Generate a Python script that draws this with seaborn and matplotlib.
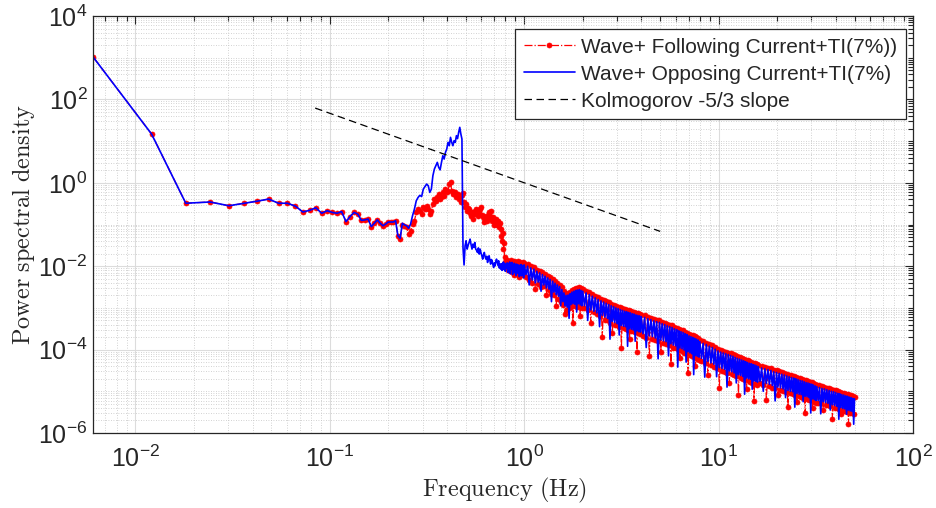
import numpy as np
import pandas as pd
import matplotlib
matplotlib.use("Agg")
import matplotlib.pyplot as plt
import seaborn as sns
from matplotlib.ticker import FixedLocator, LogLocator, LogFormatterSciNotation, NullFormatter

# Spectral resolution of the FFT bins (Hz)
FREQ_STEP = 0.00605

# log10 of the PSD for bins 1..37, where both cases coincide
log_psd_shared = [
    3.02, 1.17, -0.49, -0.46, -0.55, -0.49, -0.44, -0.39, -0.49, -0.49,
    -0.56, -0.70, -0.66, -0.60, -0.73, -0.67, -0.71, -0.73, -0.69, -0.93,
    -0.81, -0.71, -0.75, -0.90, -0.89, -0.87, -1.05, -0.97, -0.89, -0.97,
    -1.03, -0.99, -0.94, -0.94, -0.94, -0.91, -1.27,
]

# log10 of the PSD for bins 38..164 (about 0.23 Hz to 1 Hz)
log_psd_following_low = [
    -1.35, -1.00, -1.03, -1.07, -1.23, -1.15, -0.99, -0.91, -0.71, -0.63,
    -0.67, -0.75, -0.59, -0.63, -0.55, -0.63, -0.75, -0.67, -0.51, -0.39,
    -0.43, -0.35, -0.27, -0.39, -0.33, -0.23, -0.31, -0.15, -0.23, -0.19,
    -0.03, 0.01, -0.19, -0.27, -0.21, -0.23, -0.35, -0.27, -0.39, -0.35,
    -0.47, -0.30, -0.25, -0.45, -0.59, -0.52, -0.67, -0.60, -0.63, -0.72,
    -0.79, -0.70, -0.87, -0.75, -0.68, -0.63, -0.74, -0.79, -0.66, -0.71,
    -0.62, -0.59, -0.76, -0.83, -0.95, -0.80, -0.88, -0.83, -0.92, -0.87,
    -0.78, -0.71, -0.80, -0.67, -0.85, -0.91, -0.82, -0.87, -1.00, -0.95,
    -0.86, -0.91, -1.02, -0.91, -0.98, -1.06, -0.97, -1.11, -1.27, -1.39,
    -1.20, -1.59, -1.45, -1.91, -1.78, -2.00, -1.86, -1.95, -2.10, -1.88,
    -2.02, -1.92, -2.12, -1.86, -1.98, -2.15, -1.90, -2.05, -1.87, -2.20,
    -1.92, -2.08, -1.89, -2.18, -1.95, -2.10, -1.88, -2.25, -1.93, -2.12,
    -1.90, -2.20, -1.95, -2.14, -1.91, -2.22, -1.96,
]
log_psd_opposing_low = [
    -1.33, -0.97, -1.01, -1.03, -1.09, -0.99, -0.79, -0.63, -0.43, -0.35,
    -0.30, -0.33, -0.15, -0.09, -0.03, -0.07, -0.23, -0.15, 0.17, 0.33,
    0.41, 0.49, 0.37, 0.31, 0.49, 0.65, 0.57, 0.73, 0.81, 0.97,
    0.89, 1.09, 0.97, 0.89, 1.01, 0.97, 1.13, 1.06, 1.21, 1.33,
    1.17, 1.05, -1.55, -1.97, -1.51, -1.39, -1.59, -1.50, -1.43, -1.35,
    -1.48, -1.59, -1.47, -1.55, -1.43, -1.59, -1.62, -1.67, -1.56, -1.71,
    -1.59, -1.68, -1.75, -1.83, -1.72, -1.67, -1.78, -1.83, -1.76, -1.91,
    -1.82, -1.75, -1.86, -1.95, -1.84, -1.87, -1.96, -2.03, -1.92, -1.99,
    -1.88, -1.83, -1.91, -1.98, -1.87, -2.04, -1.95, -2.07, -1.94, -2.10,
    -2.03, -1.90, -2.08, -1.93, -2.12, -1.96, -2.05, -1.92, -2.15, -1.95,
    -2.08, -1.90, -2.18, -1.94, -2.06, -1.91, -2.20, -1.97, -2.10, -1.93,
    -2.16, -1.96, -2.22, -1.95, -2.12, -1.98, -2.18, -1.97, -2.25, -1.99,
    -2.15, -1.96, -2.23, -2.00, -2.14, -1.98, -2.28,
]

# Inertial range above 1 Hz, stored as evenly spaced runs: (first Hz, last Hz, points)
hf_runs = [(1.00, 1.98, 50), (2.00, 3.96, 50), (4.00, 7.92, 50),
           (8.00, 15.84, 50), (16.00, 31.68, 50), (32.0, 50.0, 37)]

log_psd_following_hf = [
    # 1.00 - 1.98 Hz
    -1.92, -2.25, -1.95, -2.32, -1.99, -2.40, -2.02, -2.55, -2.08, -2.42,
    -2.11, -2.50, -2.15, -2.48, -2.19, -2.70, -2.24, -2.58, -2.27, -2.66,
    -2.31, -2.70, -2.36, -2.95, -2.40, -2.78, -2.44, -2.85, -2.51, -2.92,
    -2.59, -3.15, -2.66, -3.05, -2.65, -3.00, -2.61, -2.98, -2.57, -3.35,
    -2.55, -2.96, -2.53, -2.98, -2.52, -2.95, -2.51, -3.20, -2.53, -3.00,
    # 2.00 - 3.96 Hz
    -2.55, -3.00, -2.59, -3.05, -2.63, -3.35, -2.67, -3.10, -2.71, -3.15,
    -2.75, -3.20, -2.78, -3.70, -2.81, -3.28, -2.84, -3.30, -2.87, -3.35,
    -2.90, -3.60, -2.92, -3.40, -2.95, -3.42, -2.97, -3.45, -2.99, -3.95,
    -3.01, -3.48, -3.03, -3.50, -3.04, -3.52, -3.06, -3.75, -3.07, -3.55,
    -3.09, -3.56, -3.10, -3.58, -3.12, -4.05, -3.13, -3.60, -3.14, -3.62,
    # 4.00 - 7.92 Hz
    -3.16, -3.68, -3.18, -3.71, -3.21, -4.15, -3.23, -3.75, -3.26, -3.78,
    -3.28, -3.80, -3.30, -4.05, -3.33, -3.85, -3.35, -3.87, -3.38, -3.90,
    -3.40, -4.35, -3.42, -3.95, -3.45, -3.97, -3.47, -3.99, -3.50, -4.20,
    -3.52, -4.04, -3.54, -4.07, -3.57, -4.09, -3.59, -4.55, -3.62, -4.14,
    -3.64, -4.16, -3.66, -4.18, -3.68, -4.40, -3.70, -4.22, -3.72, -4.24,
    # 8.00 - 15.84 Hz
    -3.76, -4.27, -3.80, -4.31, -3.83, -4.60, -3.87, -4.38, -3.90, -4.41,
    -3.94, -4.45, -3.98, -4.91, -4.01, -4.51, -4.03, -4.53, -4.05, -4.55,
    -4.07, -4.80, -4.09, -4.59, -4.11, -4.62, -4.14, -4.64, -4.16, -5.08,
    -4.18, -4.68, -4.20, -4.70, -4.22, -4.72, -4.24, -4.95, -4.26, -4.76,
    -4.28, -4.77, -4.29, -4.79, -4.31, -5.23, -4.32, -4.82, -4.34, -4.84,
    # 16.0 - 31.7 Hz
    -4.36, -4.81, -4.39, -4.84, -4.41, -5.21, -4.43, -4.88, -4.45, -4.91,
    -4.48, -4.93, -4.50, -5.10, -4.52, -4.97, -4.54, -4.99, -4.56, -5.01,
    -4.58, -5.38, -4.60, -5.05, -4.62, -5.06, -4.63, -5.08, -4.65, -5.25,
    -4.67, -5.12, -4.69, -5.13, -4.70, -5.15, -4.72, -5.52, -4.74, -5.18,
    -4.75, -5.20, -4.77, -5.22, -4.78, -5.40, -4.80, -5.25, -4.82, -5.27,
    # 32 - 50 Hz
    -4.84, -5.27, -4.86, -5.29, -4.88, -5.45, -4.89, -5.32, -4.91, -5.34,
    -4.93, -5.36, -4.95, -5.66, -4.96, -5.39, -4.98, -5.41, -5.00, -5.42,
    -5.01, -5.55, -5.03, -5.46, -5.04, -5.47, -5.06, -5.49, -5.07, -5.79,
    -5.09, -5.52, -5.10, -5.53, -5.12, -5.54, -5.13,
]
log_psd_opposing_hf = [
    # 1.00 - 1.98 Hz
    -1.97, -2.20, -2.00, -2.45, -2.04, -2.33, -2.07, -2.40, -2.12, -2.38,
    -2.16, -2.60, -2.20, -2.45, -2.24, -2.52, -2.28, -2.55, -2.32, -2.85,
    -2.36, -2.62, -2.41, -2.68, -2.45, -2.72, -2.49, -2.95, -2.56, -2.85,
    -2.64, -2.95, -2.70, -2.98, -2.69, -3.25, -2.66, -2.92, -2.62, -2.90,
    -2.60, -2.91, -2.58, -3.10, -2.57, -2.90, -2.56, -2.93, -2.58, -2.95,
    # 2.00 - 3.96 Hz
    -2.60, -2.95, -2.64, -3.30, -2.68, -3.05, -2.72, -3.08, -2.76, -3.12,
    -2.80, -3.45, -2.83, -3.18, -2.86, -3.22, -2.89, -3.25, -2.92, -3.75,
    -2.95, -3.32, -2.97, -3.35, -3.00, -3.38, -3.02, -3.65, -3.04, -3.42,
    -3.06, -3.44, -3.08, -3.45, -3.09, -3.92, -3.11, -3.50, -3.12, -3.51,
    -3.14, -3.53, -3.15, -3.80, -3.17, -3.55, -3.18, -3.57, -3.19, -3.58,
    # 4.00 - 7.92 Hz
    -3.21, -3.62, -3.23, -3.95, -3.26, -3.67, -3.28, -3.69, -3.31, -3.72,
    -3.33, -4.22, -3.35, -3.77, -3.38, -3.79, -3.40, -3.81, -3.43, -4.15,
    -3.45, -3.86, -3.47, -3.89, -3.50, -3.91, -3.52, -4.42, -3.55, -3.96,
    -3.57, -3.98, -3.59, -4.01, -3.62, -4.30, -3.64, -4.05, -3.67, -4.08,
    -3.69, -4.10, -3.71, -4.60, -3.73, -4.14, -3.75, -4.16, -3.77, -4.18,
    # 8.00 - 15.84 Hz
    -3.81, -4.21, -3.85, -4.66, -3.88, -4.28, -3.92, -4.32, -3.95, -4.35,
    -3.99, -4.65, -4.03, -4.43, -4.06, -4.45, -4.08, -4.47, -4.10, -4.90,
    -4.12, -4.51, -4.14, -4.53, -4.16, -4.56, -4.19, -4.80, -4.21, -4.60,
    -4.23, -4.62, -4.25, -4.64, -4.27, -5.07, -4.29, -4.68, -4.31, -4.70,
    -4.33, -4.71, -4.34, -4.95, -4.36, -4.75, -4.37, -4.76, -4.39, -4.78,
    # 16.0 - 31.7 Hz
    -4.41, -4.76, -4.44, -5.00, -4.46, -4.81, -4.48, -4.83, -4.50, -4.86,
    -4.53, -5.23, -4.55, -4.90, -4.57, -4.92, -4.59, -4.94, -4.61, -5.15,
    -4.63, -4.98, -4.65, -5.00, -4.67, -5.01, -4.68, -5.38, -4.70, -5.05,
    -4.72, -5.07, -4.74, -5.08, -4.75, -5.25, -4.77, -5.12, -4.79, -5.13,
    -4.80, -5.15, -4.82, -5.52, -4.83, -5.18, -4.85, -5.20, -4.87, -5.22,
    # 32 - 50 Hz
    -4.89, -5.22, -4.91, -5.54, -4.93, -5.25, -4.94, -5.27, -4.96, -5.29,
    -4.98, -5.45, -5.00, -5.32, -5.01, -5.34, -5.03, -5.36, -5.05, -5.67,
    -5.06, -5.39, -5.08, -5.41, -5.09, -5.42, -5.11, -5.55, -5.12, -5.45,
    -5.14, -5.47, -5.15, -5.48, -5.17, -5.79, -5.18,
]

# Reference -5/3 power law, drawn over this frequency span
kolmogorov_freq = [0.084, 5.0]
kolmogorov_coeff = 1.0

labels = [
    "Wave+ Following Current+TI(7%))",
    "Wave+ Opposing Current+TI(7%)",
    "Kolmogorov -5/3 slope",
]

# ---------------------------------------------------------------- style
sns.set_theme(style="white")
plt.rcParams.update({
    "font.family": ["Liberation Sans", "DejaVu Sans"],
    "mathtext.fontset": "cm",
    "axes.edgecolor": "#262626",
    "axes.linewidth": 0.9,
    "xtick.color": "#262626",
    "ytick.color": "#262626",
    "axes.labelcolor": "#262626",
})

fig = plt.figure(figsize=(9.36, 5.08), dpi=100)
ax = fig.add_axes([0.0994, 0.1476, 0.8761, 0.8209])
ax.set_xscale("log")
ax.set_yscale("log")

# ---------------------------------------------------------------- data
n_low = len(log_psd_shared) + len(log_psd_following_low)
bin_freq = FREQ_STEP * np.arange(1, n_low + 1)
hf_freq = np.concatenate([np.linspace(a, b, n) for a, b, n in hf_runs])
freq = np.concatenate([bin_freq, hf_freq])

following = pd.DataFrame({
    "Frequency": freq,
    "PSD": 10.0 ** np.concatenate([log_psd_shared, log_psd_following_low, log_psd_following_hf]),
})
opposing = pd.DataFrame({
    "Frequency": freq,
    "PSD": 10.0 ** np.concatenate([log_psd_shared, log_psd_opposing_low, log_psd_opposing_hf]),
})
kol_f = np.array(kolmogorov_freq)
kolmogorov = pd.DataFrame({"Frequency": kol_f, "PSD": kolmogorov_coeff * kol_f ** (-5.0 / 3.0)})

sns.lineplot(data=following, x="Frequency", y="PSD", ax=ax, estimator=None, sort=False,
             color="red", linestyle="-.", linewidth=0.9, marker="o", markersize=3.6,
             markeredgecolor="red", markerfacecolor="red", markeredgewidth=0.5,
             label=labels[0], legend=False)
sns.lineplot(data=opposing, x="Frequency", y="PSD", ax=ax, estimator=None, sort=False,
             color="blue", linestyle="-", linewidth=1.2, label=labels[1], legend=False)
sns.lineplot(data=kolmogorov, x="Frequency", y="PSD", ax=ax, estimator=None, sort=False,
             color="black", linestyle=(0, (6, 3.6)), linewidth=0.9, label=labels[2], legend=False)

# ---------------------------------------------------------------- axes
ax.set_xlim(FREQ_STEP, 100)
ax.set_ylim(1e-6, 1e4)

ax.xaxis.set_major_locator(LogLocator(base=10, numticks=12))
ax.xaxis.set_minor_locator(LogLocator(base=10, subs=np.arange(2, 10), numticks=40))
ax.xaxis.set_minor_formatter(NullFormatter())
ax.yaxis.set_major_locator(FixedLocator([1e-6, 1e-4, 1e-2, 1e0, 1e2, 1e4]))
ax.yaxis.set_major_formatter(LogFormatterSciNotation())
ax.yaxis.set_minor_locator(LogLocator(base=10, subs=np.arange(1, 10), numticks=40))
ax.yaxis.set_minor_formatter(NullFormatter())

ax.set_axisbelow(True)
ax.grid(which="major", color="#dcdcdc", linewidth=0.8, linestyle="-")
ax.grid(which="minor", color="#c4c4c4", linewidth=0.6, linestyle=(0, (1, 2)))

ax.tick_params(which="both", direction="in", top=True, right=True, width=0.8)
ax.tick_params(which="major", length=6)
ax.tick_params(which="minor", length=3.5)
ax.tick_params(axis="x", which="major", labelsize=18, pad=9)
ax.tick_params(axis="y", which="major", labelsize=18, pad=4)
for side in ("top", "right", "bottom", "left"):
    ax.spines[side].set_visible(True)

ax.set_xlabel(r"$\mathrm{Frequency\ (Hz)}$", fontsize=17.5)
ax.set_ylabel(r"$\mathrm{Power\ spectral\ density}$", fontsize=17.5)
ax.xaxis.set_label_coords(0.502, -0.103)
ax.yaxis.set_label_coords(-0.068, 0.5)

leg = ax.legend(loc="upper right", bbox_to_anchor=(0.9915, 0.969), frameon=True,
                fancybox=False, framealpha=1, edgecolor="#262626", facecolor="white",
                fontsize=15, handlelength=2.45, handletextpad=0.3, labelspacing=0.38,
                borderpad=0.42, borderaxespad=0, numpoints=1)
leg.get_frame().set_linewidth(0.9)

fig.savefig("out.png", dpi=100, facecolor="white")
